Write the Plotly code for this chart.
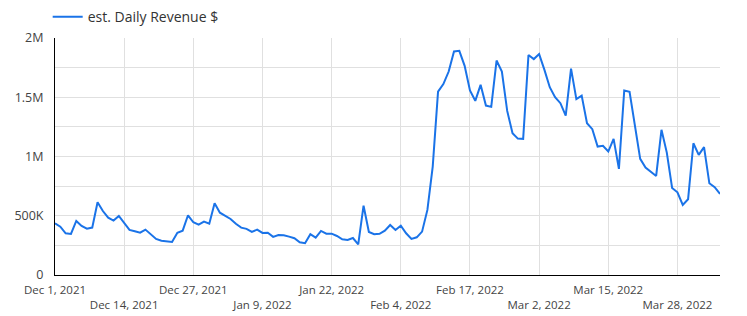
import plotly.graph_objects as go
import pandas as pd

start_date = "2021-12-01"
revenue = [
    437, 408, 352, 346, 456, 414, 391, 400, 614, 540,
    484, 459, 498, 437, 380, 369, 357, 383, 344, 304,
    289, 285, 279, 357, 374, 504, 445, 425, 450, 433,
    605, 526, 498, 473, 433, 400, 389, 363, 383, 355,
    357, 322, 338, 335, 324, 310, 276, 268, 344, 315,
    372, 349, 349, 329, 301, 296, 312, 259, 585, 363,
    344, 348, 374, 422, 380, 416, 352, 304, 318, 366,
    549, 915, 1548, 1611, 1717, 1886, 1892, 1765, 1557, 1470,
    1605, 1430, 1419, 1810, 1717, 1385, 1197, 1151, 1149, 1856,
    1822, 1864, 1731, 1585, 1501, 1450, 1345, 1742, 1484, 1514,
    1281, 1231, 1084, 1090, 1042, 1149, 895, 1557, 1546, 1281,
    980, 906, 867, 836, 1225, 1033, 735, 698, 591, 639,
    1112, 1014, 1079, 774, 741, 684,
]
revenue = [v * 1000 for v in revenue]
dates = pd.date_range(start_date, periods=len(revenue), freq="D")

x_tick_dates = ["2021-12-01", "2021-12-14", "2021-12-27", "2022-01-09", "2022-01-22",
                "2022-02-04", "2022-02-17", "2022-03-02", "2022-03-15", "2022-03-28"]
x_tick_labels = ["Dec 1, 2021", "Dec 14, 2021", "Dec 27, 2021", "Jan 9, 2022", "Jan 22, 2022",
                 "Feb 4, 2022", "Feb 17, 2022", "Mar 2, 2022", "Mar 15, 2022", "Mar 28, 2022"]
y_tick_vals = [0, 250000, 500000, 750000, 1000000, 1250000, 1500000, 1750000, 2000000]
y_tick_labels = ["0", "", "500K", "", "1M", "", "1.5M", "", "2M"]

x_text = [t if i % 2 == 0 else "<br>" + t for i, t in enumerate(x_tick_labels)]

fig = go.Figure()
fig.add_trace(go.Scatter(
    x=dates, y=revenue, mode="lines", name="est. Daily Revenue $",
    line=dict(color="#1a73e8", width=2),
))

font_family = "Open Sans"
fig.update_layout(
    width=747, height=316,
    margin=dict(l=55, r=27, t=38, b=41, autoexpand=False),
    paper_bgcolor="white", plot_bgcolor="white",
    font=dict(family=font_family, size=12, color="#444"),
    showlegend=True,
    legend=dict(
        orientation="h", x=-0.011, y=1.02, xanchor="left", yanchor="bottom",
        font=dict(size=14, color="#333"), itemwidth=30,
        bgcolor="rgba(0,0,0,0)",
    ),
    xaxis=dict(
        range=[dates[0], dates[-1]],
        tickvals=pd.to_datetime(x_tick_dates), ticktext=x_text,
        tickangle=0, automargin=False,
        showgrid=True, gridcolor="#e0e0e0", gridwidth=1,
        showline=True, linecolor="black", linewidth=1,
        ticks="outside", ticklen=4, tickcolor="rgba(0,0,0,0)",
        tickfont=dict(size=11.5, color="#444"),
        zeroline=False,
    ),
    yaxis=dict(
        range=[0, 2000000], automargin=False,
        tickvals=y_tick_vals, ticktext=y_tick_labels,
        showgrid=True, gridcolor="#e0e0e0", gridwidth=1,
        showline=True, linecolor="black", linewidth=1,
        ticks="outside", ticklen=8, tickcolor="rgba(0,0,0,0)",
        tickfont=dict(size=12.5, color="#444"),
        zeroline=False,
    ),
)

fig.write_html("out.html")
